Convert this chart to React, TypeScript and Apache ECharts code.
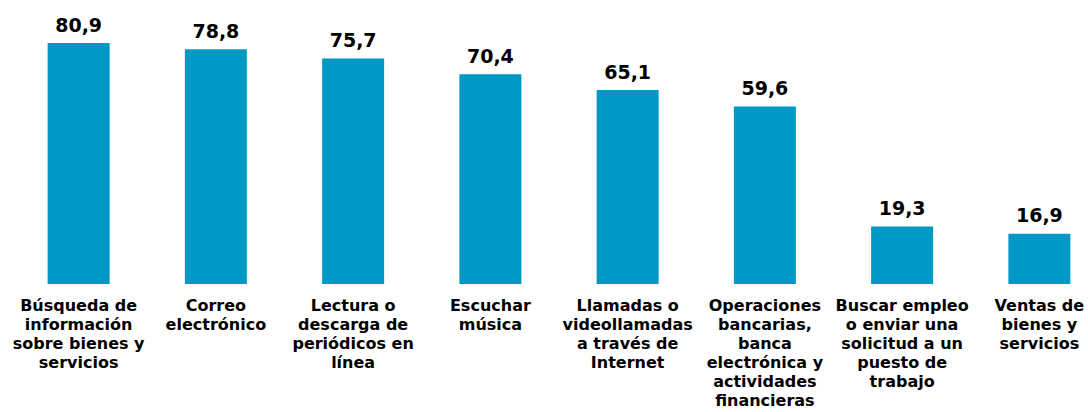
import React, { useEffect, useRef } from "react";
import * as echarts from "echarts";

const categories = [
  "Búsqueda de\ninformación\nsobre bienes y\nservicios",
  "Correo\nelectrónico",
  "Lectura o\ndescarga de\nperiódicos en\nlínea",
  "Escuchar\nmúsica",
  "Llamadas o\nvideollamadas\na través de\nInternet",
  "Operaciones\nbancarias,\nbanca\nelectrónica y\nactividades\nfinancieras",
  "Buscar empleo\no enviar una\nsolicitud a un\npuesto de\ntrabajo",
  "Ventas de\nbienes y\nservicios",
];
const values = [80.9, 78.8, 75.7, 70.4, 65.1, 59.6, 19.3, 16.9];

export default function App() {
  const ref = useRef<HTMLDivElement>(null);
  useEffect(() => {
    if (!ref.current) return;
    const chart = echarts.init(ref.current, undefined, { renderer: "svg" });
    chart.setOption({
      animation: false,
      backgroundColor: "#ffffff",
      grid: {
        left: 10,
        top: 10,
        right: -20,
        bottom: 128,
        containLabel: false,
        outerBoundsMode: "none",
      },
      xAxis: {
        type: "category",
        data: categories,
        axisLine: { show: false },
        axisTick: { show: false },
        axisLabel: {
          interval: 0,
          margin: 12,
          color: "#000000",
          fontFamily: "DejaVu Sans",
          fontWeight: "bold",
          fontSize: 16,
          lineHeight: 19,
          align: "center",
        },
      },
      yAxis: {
        type: "value",
        min: 0,
        max: 92,
        show: false,
        splitLine: { show: false },
      },
      series: [
        {
          type: "bar",
          data: values,
          barWidth: 62,
          itemStyle: { color: "#0099c6" },
          label: {
            show: true,
            position: "top",
            distance: 9,
            color: "#000000",
            fontFamily: "DejaVu Sans",
            fontWeight: "bold",
            fontSize: 19,
            formatter: (p: any) => String(p.value.toFixed(1)).replace(".", ","),
          },
        },
      ],
    });
    return () => chart.dispose();
  }, []);
  return (
    <div
      ref={ref}
      style={{ position: "fixed", left: 0, top: 0, width: 1088, height: 412 }}
    />
  );
}
